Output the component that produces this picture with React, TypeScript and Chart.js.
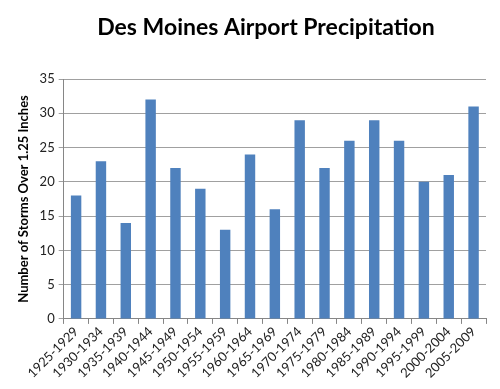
import React, { useEffect, useRef } from "react";
import { Chart, registerables } from "chart.js";

Chart.register(...registerables);

const categories = [
  "1925-1929", "1930-1934", "1935-1939", "1940-1944", "1945-1949", "1950-1954",
  "1955-1959", "1960-1964", "1965-1969", "1970-1974", "1975-1979", "1980-1984",
  "1985-1989", "1990-1994", "1995-1999", "2000-2004", "2005-2009",
];
const storms = [18, 23, 14, 32, 22, 19, 13, 24, 16, 29, 22, 26, 29, 26, 20, 21, 31];
const yTicks = [0, 5, 10, 15, 20, 25, 30, 35];
const TITLE = "Des Moines Airport Precipitation";

const FONT = "Lato, 'Open Sans', sans-serif";

const titlePlugin = {
  id: "customTitle",
  afterDraw(chart: any) {
    const ctx = chart.ctx;
    ctx.save();
    ctx.font = `bold 23px ${FONT}`;
    ctx.fillStyle = "#000";
    ctx.textAlign = "center";
    ctx.textBaseline = "alphabetic";
    ctx.fillText(TITLE, 266, 35);
    ctx.restore();
  },
};

export default function App() {
  const ref = useRef<HTMLCanvasElement>(null);
  useEffect(() => {
    document.body.style.margin = "0";
    const chart = new Chart(ref.current!, {
      type: "bar",
      data: {
        labels: categories,
        datasets: [
          {
            data: storms,
            backgroundColor: "#4f81bd",
            borderWidth: 0,
            barPercentage: 0.42,
            categoryPercentage: 1,
          },
        ],
      },
      plugins: [titlePlugin],
      options: {
        animation: false,
        responsive: false,
        layout: { padding: { left: 16, right: 14, top: 79, bottom: 8 } },
        plugins: {
          legend: { display: false },
          tooltip: { enabled: false },
          title: { display: false },
        },
        scales: {
          x: {
            offset: true,
            grid: {
              offset: true,
              drawOnChartArea: false,
              drawTicks: true,
              tickLength: 5,
              color: "#868686",
            },
            border: { color: "#868686" },
            ticks: {
              autoSkip: false,
              minRotation: 45,
              maxRotation: 45,
              color: "#222",
              font: { family: FONT, size: 13 },
              padding: 0,
            },
          },
          y: {
            min: 0,
            max: 35,
            afterBuildTicks: (axis: any) => {
              axis.ticks = yTicks.map((v) => ({ value: v }));
            },
            grid: { color: "#a0a0a0", tickLength: 5, drawTicks: true },
            border: { color: "#868686" },
            ticks: {
              color: "#222",
              font: { family: FONT, size: 13 },
              padding: 4,
            },
            title: {
              display: true,
              text: "Number of Storms Over 1.25 Inches",
              font: { family: FONT, size: 13, weight: "bold" },
              color: "#000",
              padding: { top: 0, bottom: 4 },
            },
          },
        },
      },
    });
    return () => chart.destroy();
  }, []);
  return (
    <div style={{ width: 500, height: 389, background: "#fff" }}>
      <canvas ref={ref} width={500} height={389} />
    </div>
  );
}
